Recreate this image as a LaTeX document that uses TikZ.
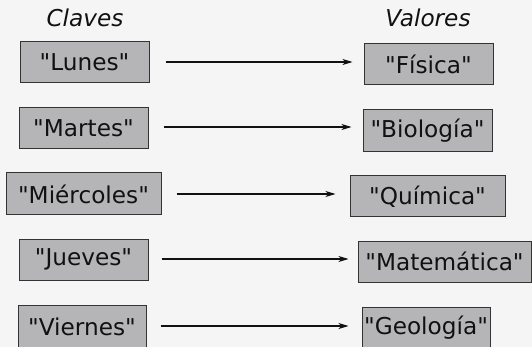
\documentclass[tikz,border=0pt]{standalone}
\usepackage{fontspec}
\setmainfont{DejaVu Sans}[Ligatures=TeXOff]
\usetikzlibrary{arrows.meta,calc}
\definecolor{bgc}{HTML}{F5F5F5}
\definecolor{boxfill}{HTML}{B5B5B8}
\definecolor{boxline}{HTML}{333333}
\definecolor{txt}{HTML}{111111}
\begin{document}
\begin{tikzpicture}[x=1pt,y=-1pt,
  kv/.style={draw=boxline,fill=boxfill,line width=1pt,inner sep=0pt,
    minimum height=41pt,text=txt,font=\fontsize{23.2}{27}\selectfont,anchor=center},
  hdr/.style={text=txt,font=\fontsize{23.2}{27}\selectfont\itshape,inner sep=0pt},
  arr/.style={draw=txt,line width=1.1pt,-{Stealth[length=10pt,width=6pt,inset=3pt]}}]
\path[fill=bgc] (0,0) rectangle (532,347);
\useasboundingbox (0,0) rectangle (532,347);
\node[hdr] (claves) at (85,18) {Claves};
\node[hdr] (valores) at (428,18) {Valores};
\node[kv,minimum width=129pt] (lunes) at (84.5,62.5) {"Lunes"};
\node[kv,minimum width=129pt] (martes) at (83.5,128.5) {"Martes"};
\node[kv,minimum width=155pt,minimum height=42pt] (miercoles) at (83.5,194) {"Miércoles"};
\node[kv,minimum width=129pt] (jueves) at (83.5,259.5) {"Jueves"};
\node[kv,minimum width=128pt,minimum height=43pt] (viernes) at (82,326.5) {"Viernes"};
\node[kv,minimum width=129pt] (fisica) at (428.5,64.5) {"Física"};
\node[kv,minimum width=129pt,minimum height=42pt] (biologia) at (427.5,131) {"Biología"};
\node[kv,minimum width=155pt] (quimica) at (427.5,196.5) {"Química"};
\node[kv,minimum width=173pt] (matematica) at (444.5,261.5) {"Matemática"};
\node[kv,minimum width=128pt,minimum height=42pt] (geologia) at (426,328) {"Geología"};
\draw[arr] ([xshift=16pt,yshift=0.5pt]lunes.east) -- ([xshift=-11pt,yshift=0.5pt]lunes.east -| fisica.west);
\draw[arr] ([xshift=15pt,yshift=1.5pt]martes.east) -- ([xshift=-11pt,yshift=1.5pt]martes.east -| biologia.west);
\draw[arr] ([xshift=15pt]miercoles.east) -- ([xshift=-14pt]miercoles.east -| quimica.west);
\draw[arr] ([xshift=13pt,yshift=0.5pt]jueves.east) -- ([xshift=-9pt,yshift=0.5pt]jueves.east -| matematica.west);
\draw[arr] ([xshift=14pt,yshift=0.5pt]viernes.east) -- ([xshift=-13pt,yshift=0.5pt]viernes.east -| geologia.west);
\end{tikzpicture}
\end{document}
